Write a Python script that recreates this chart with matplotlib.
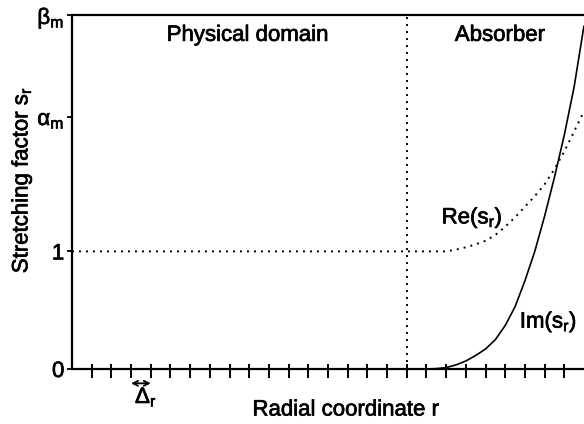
import matplotlib
matplotlib.use('Agg')
import matplotlib.pyplot as plt
import matplotlib.patheffects as pe
from matplotlib.ticker import FixedLocator

### data ###############################

# radial grid (units of the tick spacing Delta_r)
tick_pos = list(range(1, 26))
r_interface = 17.0
r_max = 26.0

alpha_m = 2.14
beta_m = 3.01

r_re = [0, 17, 18, 19, 19.5, 20.0, 20.5, 21.0, 21.5, 22.0, 22.5, 23.0, 23.5, 24.0, 24.5, 25.0, 25.5, 26.0]
re_s = [1, 1, 1.0, 1.0, 1.015, 1.035, 1.06, 1.09, 1.14, 1.21, 1.29, 1.38, 1.47, 1.57, 1.70, 1.85, 2.02, 2.19]

r_im = [17.0, 18.0, 18.5, 19.0, 19.5, 20.0, 20.5, 21.0, 21.5, 22.0, 22.5, 23.0, 23.5, 24.0, 24.5, 25.0, 25.5, 26.0]
im_s = [0.0, 0.0, 0.003, 0.012, 0.035, 0.068, 0.115, 0.17, 0.25, 0.37, 0.53, 0.75, 1.00, 1.30, 1.63, 1.99, 2.40, 2.92]

y_ticks = [0, 1, alpha_m, beta_m]
y_labels = ['0', '1', r'$\mathregular{\alpha_m}$', r'$\mathregular{\beta_m}$']

########################################

plt.rcParams['font.family'] = ['Liberation Sans', 'DejaVu Sans']
plt.rcParams['font.size'] = 16

# slightly heavier glyphs, like the original print
heavy = [pe.withStroke(linewidth=0.5, foreground='k')]

fig = plt.figure(figsize=(5.84, 4.24), dpi=100)
ax = fig.add_axes([72 / 584, 1 - 369 / 424, 1 - 72 / 584, (369 - 15) / 424])

dots = (0, (1, 2.6))
ax.plot(r_re, re_s, color='k', lw=1.4, linestyle=dots, clip_on=False)
ax.plot(r_im, im_s, color='k', lw=1.2, solid_capstyle='butt')
ax.axvline(r_interface, color='k', lw=1.4, linestyle=dots)

ax.set_xlim(0, r_max)
ax.set_ylim(0, beta_m)

for s in ['left', 'bottom', 'top']:
    ax.spines[s].set_linewidth(1.6)
ax.spines['right'].set_visible(False)

# x ticks crossing the axis
ax.xaxis.remove_overlapping_locs = False
ax.xaxis.set_major_locator(FixedLocator(tick_pos))
ax.xaxis.set_minor_locator(FixedLocator(tick_pos))
ax.tick_params(axis='x', which='major', direction='out', length=6.5, width=1.4, labelbottom=False)
ax.tick_params(axis='x', which='minor', direction='in', length=3.6, width=1.4)

ax.set_yticks(y_ticks)
ax.set_yticklabels(y_labels)
ax.tick_params(axis='y', direction='out', length=3.5, width=1.3, pad=2, labelsize=16)
for lab in ax.get_yticklabels():
    lab.set_path_effects(heavy)

ax.text(8.93, 2.79, 'Physical domain', ha='center', va='baseline', fontsize=16, path_effects=heavy)
ax.text(21.73, 2.79, 'Absorber', ha='center', va='baseline', fontsize=16, path_effects=heavy)
ax.text(18.77, 1.237, r'Re($\mathregular{s_r}$)', ha='left', va='baseline', fontsize=16, path_effects=heavy)
ax.text(22.74, 0.351, r'Im($\mathregular{s_r}$)', ha='left', va='baseline', fontsize=16, path_effects=heavy)

# Delta_r marker under the axis
ax.annotate('', xy=(3, -0.122), xytext=(4, -0.122),
            arrowprops=dict(arrowstyle='<->', lw=1.3, color='k', shrinkA=0, shrinkB=0,
                            mutation_scale=9),
            annotation_clip=False)
ax.text(3.2, -0.289, r'$\mathregular{\Delta_r}$', ha='left', va='baseline', fontsize=16,
        clip_on=False, path_effects=heavy)

fig.text(346 / 584, 1 - 410 / 424, 'Radial coordinate r', ha='center', va='center', fontsize=16,
         path_effects=heavy)
fig.text(22 / 584, 1 - 180 / 424, r'Stretching factor $\mathregular{s_r}$', rotation=90,
         ha='center', va='center', fontsize=16, path_effects=heavy)

fig.savefig('out.png', dpi=100)
